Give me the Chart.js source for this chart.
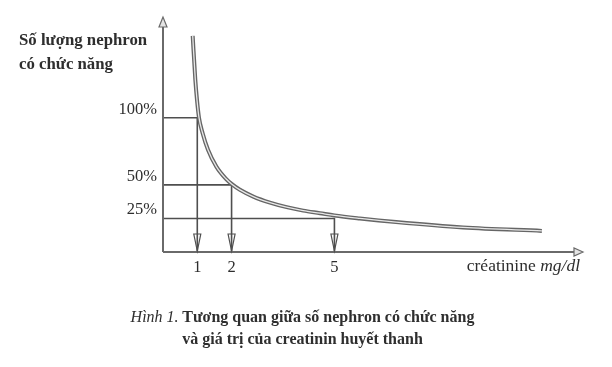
<!DOCTYPE html>
<html>
<head>
<meta charset="utf-8">
<script src="https://cdn.jsdelivr.net/npm/chart.js@4.4.1/dist/chart.umd.min.js"></script>
<style>
  body { margin: 0; background: #fff; }
  #wrap { position: relative; width: 612px; height: 367px; }
  canvas { position: absolute; left: 0; top: 0; }
  .txt { position: absolute; font-family: "Liberation Serif", serif; color: #2e2e2e; white-space: nowrap; }
</style>
</head>
<body>
<div id="wrap">
  <canvas id="chart" width="612" height="367"></canvas>
  <div class="txt" style="left:19px; top:28px; font-size:16.8px; line-height:24px; font-weight:bold">Số lượng nephron<br>có chức năng</div>
  <div class="txt" style="right:32px; top:257px; font-size:17.5px; line-height:17px">créatinine <i>mg/dl</i></div>
  <div class="txt" style="left:0; width:605px; top:306px; font-size:16px; line-height:22px; text-align:center; font-weight:bold"><i style="font-weight:normal">Hình 1.</i> Tương quan giữa số nephron có chức năng<br>và giá trị của creatinin huyết thanh</div>
</div>
<script>
// creatinine (mg/dl) vs % functioning nephrons
const creatinine = [0.866, 0.942, 0.991, 1.05, 1.152, 1.312, 1.56, 1.837, 2, 2.245, 2.633, 3.12, 3.606, 4.09, 4.577, 5, 5.74, 6.8, 8.75, 11.05]
const nephronPct = [161, 128.4, 113.4, 100, 88.8, 76.1, 63.4, 54.5, 50.7, 46.3, 41.3, 36.8, 33.4, 30.8, 28.9, 27.2, 25, 22.3, 18.3, 15.7]

// marked points: x ticks and matching y ticks
const xTicks = [1, 2, 5]
const yTicks = [100, 50, 25]

const curve = creatinine.map((x, i) => ({ x: x, y: nephronPct[i] }))

// guide lines: from y axis across to the curve, then down to the x axis
const guides = xTicks.map((x, i) => ({
  data: [{ x: 0, y: yTicks[i] }, { x: x, y: yTicks[i] }, { x: x, y: 0 }],
  borderColor: "#4f4f4f",
  borderWidth: 1.6,
  pointRadius: 0,
  tension: 0,
  order: 3
}))

function arrowHead(ctx, tipX, tipY, dir, len, half) {
  ctx.beginPath()
  if (dir === "up") {
    ctx.moveTo(tipX, tipY)
    ctx.lineTo(tipX - half, tipY + len)
    ctx.lineTo(tipX + half, tipY + len)
  } else {
    ctx.moveTo(tipX, tipY)
    ctx.lineTo(tipX - len, tipY - half)
    ctx.lineTo(tipX - len, tipY + half)
  }
  ctx.closePath()
  ctx.fillStyle = "#e4e4e4"
  ctx.fill()
  ctx.stroke()
}

const axesPlugin = {
  id: "axesPlugin",
  afterDatasetsDraw(chart) {
    const ctx = chart.ctx
    const xs = chart.scales.x
    const ys = chart.scales.y
    const x0 = xs.getPixelForValue(0)
    const y0 = ys.getPixelForValue(0)
    const xEnd = xs.getPixelForValue(xs.max)
    const yEnd = ys.getPixelForValue(ys.max)

    ctx.save()
    // axes
    ctx.strokeStyle = "#6a6a6a"
    ctx.lineWidth = 2
    ctx.beginPath()
    ctx.moveTo(x0, y0)
    ctx.lineTo(xEnd - 8, y0)
    ctx.moveTo(x0, y0)
    ctx.lineTo(x0, yEnd + 9)
    ctx.stroke()
    ctx.lineWidth = 1.2
    arrowHead(ctx, xEnd, y0, "right", 9, 4)
    arrowHead(ctx, x0, yEnd, "up", 10, 4)

    // arrows down at the marked creatinine values
    ctx.strokeStyle = "#4f4f4f"
    ctx.lineWidth = 1.2
    xTicks.forEach(v => {
      const px = xs.getPixelForValue(v)
      ctx.beginPath()
      ctx.moveTo(px, y0 - 1)
      ctx.lineTo(px - 3.5, y0 - 18)
      ctx.lineTo(px + 3.5, y0 - 18)
      ctx.closePath()
      ctx.stroke()
    })

    // tick labels
    ctx.fillStyle = "#2e2e2e"
    ctx.font = "16.5px 'Liberation Serif', serif"
    ctx.textBaseline = "alphabetic"
    ctx.textAlign = "center"
    xTicks.forEach(v => ctx.fillText(String(v), xs.getPixelForValue(v), 272))
    ctx.textAlign = "right"
    yTicks.forEach(v => ctx.fillText(v + "%", x0 - 6, ys.getPixelForValue(v) - 4))
    ctx.restore()
  }
}

new Chart(document.getElementById("chart").getContext("2d"), {
  type: "line",
  data: {
    datasets: [
      {
        data: curve,
        borderColor: "#e8e8e8",
        borderWidth: 1.3,
        pointRadius: 0,
        cubicInterpolationMode: "monotone",
        order: 1
      },
      {
        data: curve,
        borderColor: "#666666",
        borderWidth: 4,
        pointRadius: 0,
        cubicInterpolationMode: "monotone",
        order: 2
      },
      ...guides
    ]
  },
  options: {
    responsive: false,
    animation: false,
    layout: { padding: { left: 163, right: 29, top: 17, bottom: 115 } },
    plugins: {
      legend: { display: false },
      tooltip: { enabled: false }
    },
    scales: {
      x: { type: "linear", min: 0, max: 12.25, display: false },
      y: { type: "linear", min: 0, max: 175, display: false }
    }
  },
  plugins: [axesPlugin]
})
</script>
</body>
</html>
